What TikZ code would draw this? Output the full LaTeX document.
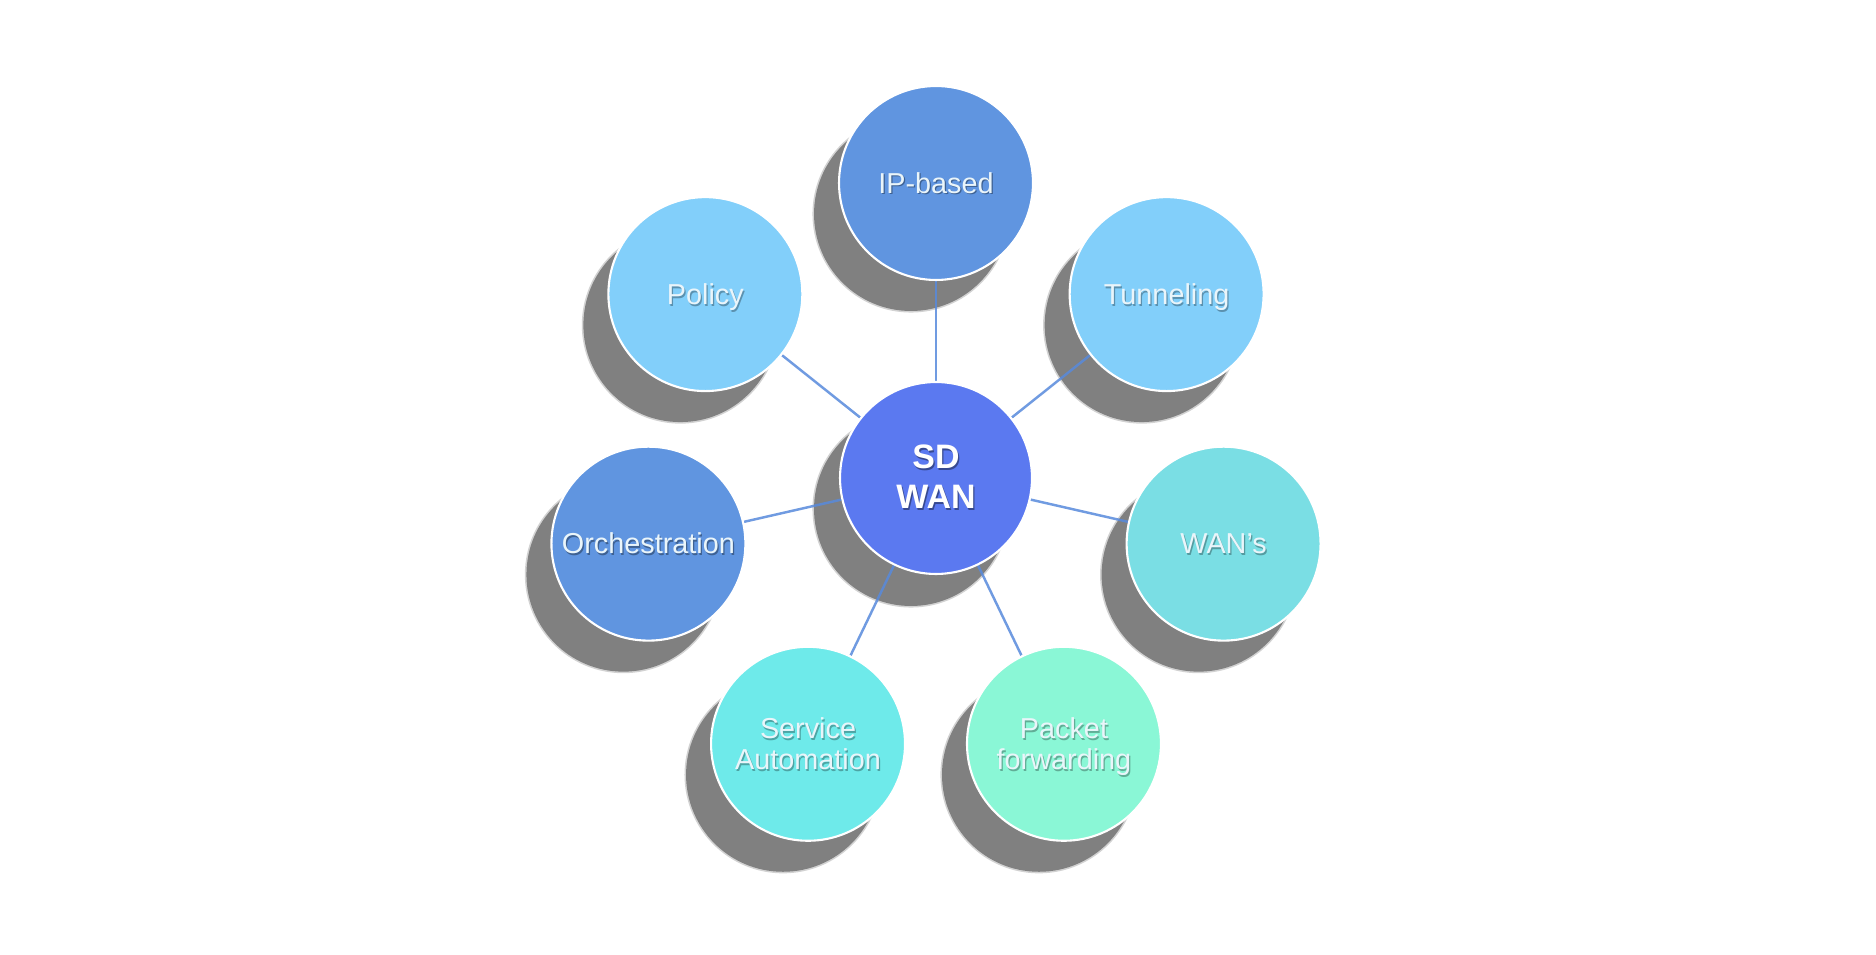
\documentclass[tikz,border=0pt]{standalone}
\usepackage{fontspec}
\setmainfont{Liberation Sans}
\usetikzlibrary{calc,backgrounds}
\definecolor{cSD}{RGB}{91,121,240}
\definecolor{cIP}{RGB}{96,149,224}
\definecolor{cPol}{RGB}{130,207,250}
\definecolor{cWan}{RGB}{122,222,228}
\definecolor{cSvc}{RGB}{110,234,234}
\definecolor{cPkt}{RGB}{138,247,214}
\definecolor{lineC}{RGB}{88,138,220}
\definecolor{shadowC}{RGB}{128,128,128}
\definecolor{txtC}{RGB}{234,245,250}
\newcommand\shtxt[2]{\raisebox{-6.6pt}[0pt][0pt]{\makebox[0pt][l]{\raisebox{-1pt}{\hspace{0.7pt}\textcolor{#1}{\begin{tabular}{@{}c@{}}#2\end{tabular}}}}\begin{tabular}{@{}c@{}}#2\end{tabular}}}
\tikzset{
  bubble/.style={circle, minimum size=3.88cm, inner sep=0pt, draw=white, line width=1.2pt,
    text=txtC, font=\fontsize{16.4}{17.6}\selectfont},
  hub/.style={bubble, minimum size=3.84cm, fill=cSD, text=white,
    font=\bfseries\fontsize{19.3}{22.7}\selectfont},
  shad/.style={circle, minimum size=3.88cm, inner sep=0pt, fill=shadowC,
    draw=shadowC, draw opacity=0.35, line width=1.8pt},
  link/.style={draw=lineC, line width=1.4pt, draw opacity=0.85},
}
\begin{document}
\begin{tikzpicture}[x=0.02cm, y=0.02cm]
\useasboundingbox (0,0) rectangle (1876,954);
\coordinate (c) at (936,476);
\node[hub] (hub) at (c) {\shtxt{cSD!60!black}{SD\\WAN}};
\node[bubble, fill=cIP]  (ip)   at ($(c)+(90:295)$)      {\shtxt{cIP!65!black}{IP-based}};
\node[bubble, fill=cPol] (tun)  at ($(c)+(38.57:295)$)   {\shtxt{cPol!70!black}{Tunneling}};
\node[bubble, fill=cWan] (wan)  at ($(c)+(-12.86:295)$)  {\shtxt{cWan!70!black}{WAN’s}};
\node[bubble, fill=cPkt] (pkt)  at ($(c)+(-64.29:295)$)  {\shtxt{cPkt!70!black}{Packet\\forwarding}};
\node[bubble, fill=cSvc] (svc)  at ($(c)+(-115.71:295)$) {\shtxt{cSvc!70!black}{Service\\Automation}};
\node[bubble, fill=cIP]  (orch) at ($(c)+(192.86:295)$)  {\shtxt{cIP!65!black}{Orchestration}};
\node[bubble, fill=cPol] (pol)  at ($(c)+(141.43:295)$)  {\shtxt{cPol!70!black}{Policy}};
\begin{pgfonlayer}{background}
  \fill[white] (0,0) rectangle (1876,954);
  \foreach \n in {hub,ip,tun,wan,pkt,svc,orch,pol}
    \node[shad] (s\n) at ($(\n.center)+(-25,-31)$) {};
  \foreach \n in {ip,tun,wan,pkt,svc,orch,pol}
    \draw[link] (hub) -- (\n);
\end{pgfonlayer}
\end{tikzpicture}
\end{document}
